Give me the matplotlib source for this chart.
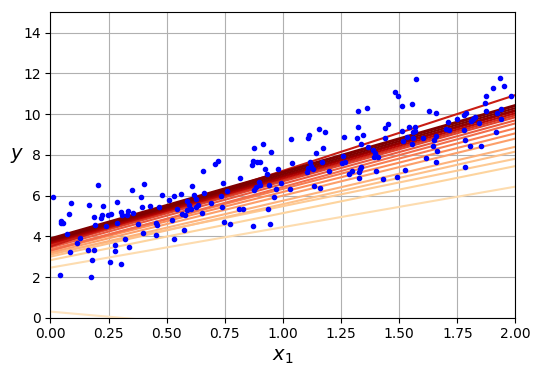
import numpy as np
import matplotlib
matplotlib.use("Agg")
import matplotlib.pyplot as plt

# scatter points
x_pts = [
    0.012, 0.205, 0.403, 0.351, 0.479, 0.390, 0.089, 0.167, 0.227, 0.287,
    0.429, 0.467, 0.392, 0.081, 0.188, 0.220, 0.216, 0.246, 0.259, 0.303,
    0.306, 0.334, 0.330, 0.356, 0.046, 0.052, 0.044, 0.284, 0.192, 0.237,
    0.376, 0.453, 0.459, 0.072, 0.399, 0.454, 0.128, 0.115, 0.321, 0.085,
    0.162, 0.188, 0.278, 0.278, 0.339, 0.180, 0.256, 0.304, 0.042, 0.175,
    0.609, 0.742, 0.896, 0.900, 0.886, 0.876, 0.939, 0.970, 0.963, 0.993,
    0.509, 0.532, 0.562, 0.618, 0.628, 0.661, 0.735, 0.761, 0.545, 0.586,
    0.595, 0.589, 0.606, 0.625, 0.634, 0.691, 0.566, 0.579, 0.652, 0.737,
    0.811, 0.828, 0.936, 0.523, 0.747, 0.771, 0.871, 0.944, 0.575, 0.532,
    0.656, 0.708, 0.722, 0.814, 0.876, 0.914, 0.948, 0.866, 0.871, 0.890,
    0.900, 0.923, 0.931, 0.979, 1.032, 1.133, 1.159,
    1.484, 1.494, 1.511, 1.322, 1.361, 1.451, 1.441, 1.322, 1.153, 1.180,
    1.112, 1.106, 1.034, 1.262, 1.317, 1.344, 1.438, 1.514, 1.516, 1.335,
    1.171, 1.142, 1.365, 1.388, 1.394, 1.401, 1.408, 1.391, 1.258, 1.039,
    1.116, 1.120, 1.166, 1.253, 1.268, 1.107, 1.129, 1.103, 1.198, 1.296,
    1.335, 1.330, 1.325, 1.401, 1.284, 1.326, 1.431, 1.490, 1.523,
    1.571, 1.932, 1.949, 1.902, 1.981, 1.872, 1.869, 1.554, 1.629, 1.657,
    1.874, 1.919, 1.936, 1.786, 1.779, 1.747, 1.709, 1.816, 1.828, 1.811,
    1.845, 1.938, 1.917, 1.703, 1.713, 1.777, 1.544, 1.570, 1.559, 1.566,
    1.534, 1.560, 1.554, 1.604, 1.650, 1.660, 1.644, 1.662, 1.783, 1.803,
    1.851, 1.614, 1.659, 1.782,
]
y_pts = [
    5.95, 6.52, 6.57, 6.28, 6.03, 5.93, 5.64, 5.54, 5.49, 5.67,
    5.49, 5.46, 5.42, 5.08, 4.95, 5.05, 4.88, 5.05, 5.11, 5.21,
    5.06, 5.26, 5.06, 5.16, 4.77, 4.67, 4.67, 4.64, 4.54, 4.51,
    4.60, 4.67, 4.54, 4.11, 4.16, 4.06, 3.90, 3.66, 3.85, 3.21,
    3.31, 3.31, 3.56, 3.26, 3.46, 2.82, 2.74, 2.62, 2.08, 1.99,
    6.46, 6.63, 6.67, 6.54, 6.41, 6.28, 6.54, 6.31, 5.92, 6.63,
    5.78, 5.98, 6.06, 6.01, 5.82, 6.11, 5.97, 6.23, 5.34, 5.72,
    5.55, 5.29, 5.33, 5.46, 5.54, 5.62, 5.08, 5.03, 5.13, 5.42,
    5.36, 5.33, 5.36, 4.79, 4.69, 4.59, 4.49, 4.59, 4.29, 3.85,
    7.21, 7.54, 7.69, 6.85, 8.32, 8.52, 8.14, 7.50, 7.70, 7.64,
    7.64, 7.29, 7.05, 7.29, 6.31, 6.47, 6.37,
    11.08, 10.90, 10.40, 10.14, 10.29, 9.52, 9.31, 9.36, 9.26, 9.11,
    8.98, 8.85, 8.77, 8.86, 8.82, 8.96, 8.82, 9.16, 8.70, 8.54,
    8.32, 8.08, 8.37, 8.24, 8.08, 7.95, 7.88, 7.88, 7.95, 7.59,
    7.64, 7.47, 7.64, 7.59, 7.65, 7.34, 7.31, 7.14, 7.22, 7.22,
    7.42, 7.29, 7.17, 7.21, 7.05, 6.85, 6.80, 6.93, 7.26,
    11.72, 11.78, 11.39, 11.27, 10.91, 10.89, 10.54, 10.49, 10.14, 10.04,
    10.14, 10.04, 10.24, 10.04, 9.96, 9.78, 9.63, 9.78, 9.85, 9.68,
    9.55, 9.75, 9.11, 9.27, 9.21, 9.21, 9.36, 9.39, 9.13, 9.17,
    8.89, 8.82, 8.54, 8.82, 8.73, 8.93, 8.44, 8.20, 8.73, 8.42,
    8.44, 7.83, 7.64, 7.39,
]

# theta (intercept, slope) for the first 20 SGD steps, estimated from the lines
theta0 = [0.30, 2.46, 2.83, 3.15, 3.00, 3.10, 3.20, 3.30, 3.35, 3.30,
          3.45, 3.55, 3.60, 3.50, 3.65, 3.70, 3.75, 3.80, 3.85, 3.90]
theta1 = [-1.00, 1.99, 2.31, 2.33, 2.58, 2.65, 2.80, 2.88, 2.98, 3.125,
          3.125, 3.15, 3.175, 3.72, 3.20, 3.225, 3.225, 3.25, 3.275, 3.275]

n_shown = len(theta0)

fig = plt.figure(figsize=(5.4, 3.76), dpi=100)
ax = fig.add_axes([0.0935, 0.155, 0.861, 0.812])

X_new = np.array([[0], [2]])
X_new_b = np.c_[np.ones((2, 1)), X_new]
for i in range(n_shown):
    theta = np.array([[theta0[i]], [theta1[i]]])
    y_predict = X_new_b @ theta
    color = plt.cm.OrRd(i / n_shown + 0.15)
    ax.plot(X_new, y_predict, color=color)

ax.plot(x_pts, y_pts, "b.")
ax.set_xlabel("$x_1$", fontsize=14)
ax.set_ylabel("$y$", rotation=0, fontsize=14)
ax.axis([0, 2, 0, 15])
ax.grid()

fig.savefig("out.png", dpi=100)
